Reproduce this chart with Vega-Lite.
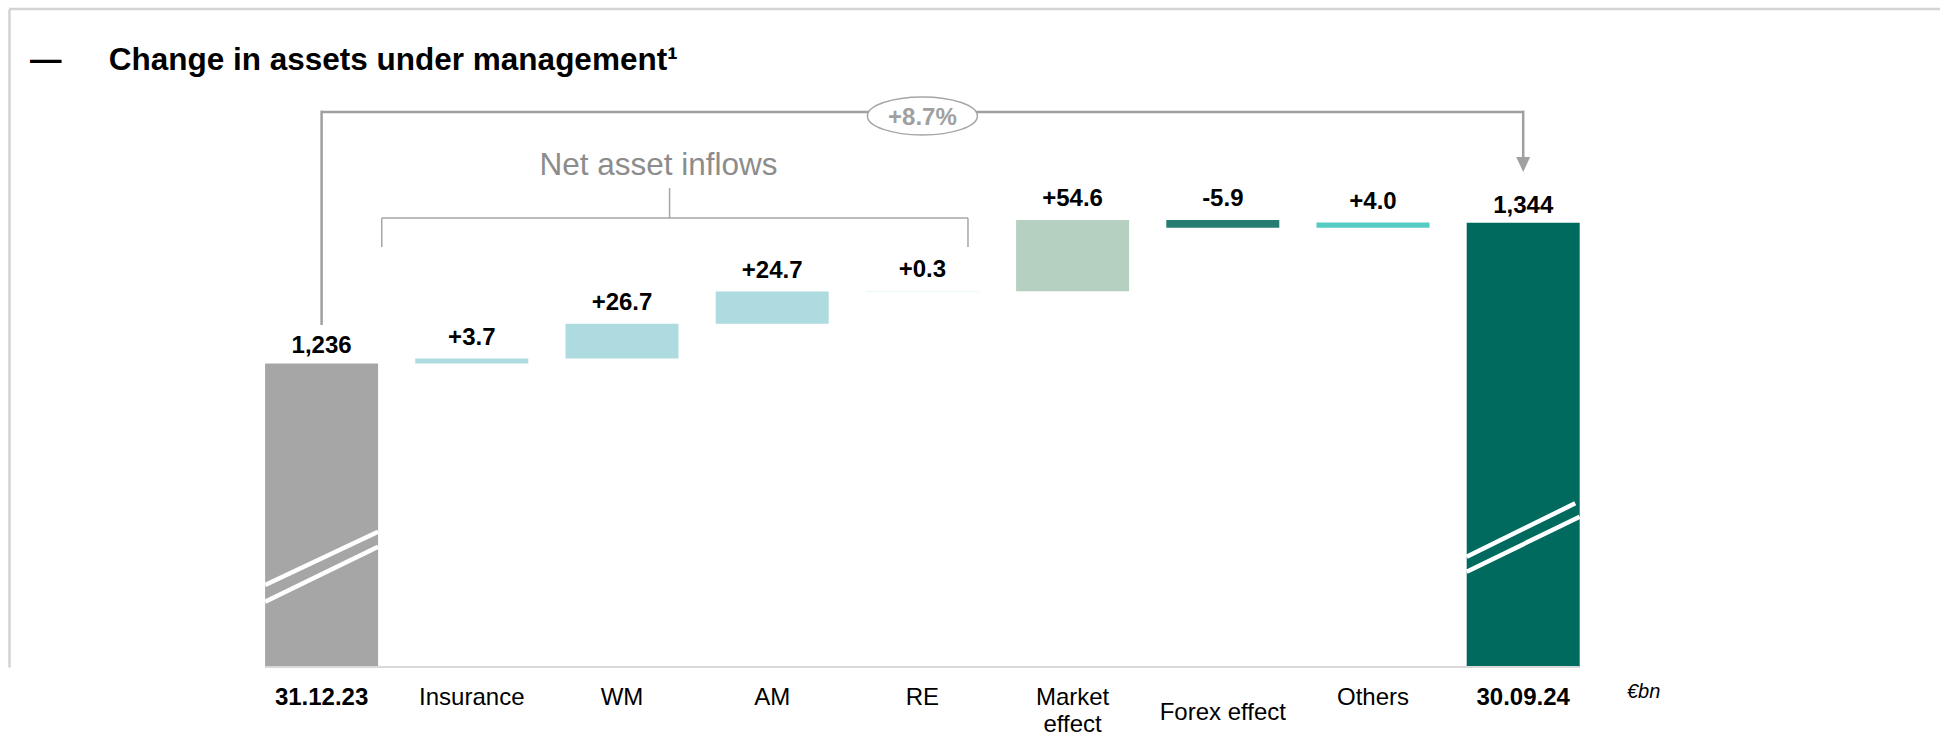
{
  "$schema": "https://vega.github.io/schema/vega-lite/v6.json",
  "autosize": {"type": "none"},
  "padding": {"left": 9, "top": 9, "right": 0, "bottom": 81},
  "width": 1931,
  "height": 658,
  "background": "#ffffff",
  "config": {
    "view": {"stroke": null},
    "font": "Liberation Sans",
    "locale": {"number": {"decimal": ".", "thousands": ",", "grouping": [3], "currency": ["", "€"], "minus": "-"}}
  },
  "title": {
    "text": "—\u2003\u2002Change in assets under management¹",
    "anchor": "start",
    "frame": "group",
    "orient": "top",
    "offset": -94,
    "dx": 21,
    "baseline": "alphabetic",
    "font": "Liberation Sans",
    "fontSize": 31.5,
    "fontWeight": "bold",
    "color": "#000000"
  },
  "resolve": {"axis": {"x": "independent", "y": "independent"}},
  "data": {
    "values": [
      {"step": "31.12.23", "kind": "total", "amount": 1236, "lo": 0, "hi": 1236},
      {"step": "Insurance", "kind": "delta", "amount": 3.7, "lo": 1236, "hi": 1239.7},
      {"step": "WM", "kind": "delta", "amount": 26.7, "lo": 1239.7, "hi": 1266.4},
      {"step": "AM", "kind": "delta", "amount": 24.7, "lo": 1266.4, "hi": 1291.1},
      {"step": "RE", "kind": "delta", "amount": 0.3, "lo": 1291.1, "hi": 1291.4},
      {"step": "Market effect", "kind": "delta", "amount": 54.6, "lo": 1291.4, "hi": 1346.0},
      {"step": "Forex effect", "kind": "delta", "amount": -5.9, "lo": 1340.1, "hi": 1346.0},
      {"step": "Others", "kind": "delta", "amount": 4.0, "lo": 1340.1, "hi": 1344.1},
      {"step": "30.09.24", "kind": "total", "amount": 1344, "lo": 0, "hi": 1344}
    ]
  },
  "layer": [
    {
      "data": {"values": [{}]},
      "mark": {"type": "rule", "color": "#d3d3d3", "strokeWidth": 2.5},
      "encoding": {"y": {"datum": 1508, "type": "quantitative", "axis": null}}
    },
    {
      "mark": {"type": "bar", "clip": true},
      "encoding": {
        "x": {
          "field": "step",
          "type": "nominal",
          "sort": null,
          "scale": {
            "domain": ["31.12.23", "Insurance", "WM", "AM", "RE", "Market effect", "Forex effect", "Others", "30.09.24"],
            "range": [256.1, 1570.7],
            "paddingInner": 0.2477,
            "paddingOuter": 0,
            "round": false
          },
          "axis": {
            "title": "€bn",
            "titleFont": "Liberation Sans",
            "titleFontSize": 20,
            "titleFontStyle": "italic",
            "titleFontWeight": "normal",
            "titleColor": "#000000",
            "titleX": 1617.5,
            "titleY": 30,
            "titleAlign": "left",
            "titleAnchor": "start",
            "titleBaseline": "alphabetic",
            "titleAngle": 0,
            "domain": false,
            "ticks": false,
            "grid": false,
            "labelAngle": 0,
            "labelFont": "Liberation Sans",
            "labelFontSize": 24,
            "labelColor": "#000000",
            "labelLimit": 0,
            "labelOverlap": false,
            "labelLineHeight": 27,
            "labelPadding": {"expr": "datum.value == 'Forex effect' ? 33 : 18"},
            "labelFontWeight": {"condition": {"test": "datum.value == '31.12.23' || datum.value == '30.09.24'", "value": "bold"}, "value": "normal"},
            "labelExpr": "datum.value == 'Market effect' ? ['Market', 'effect'] : datum.value"
          }
        },
        "y": {
          "field": "hi",
          "type": "quantitative",
          "scale": {"domain": [1003, 1508], "nice": false, "zero": false},
          "axis": {
            "title": null,
            "labels": false,
            "ticks": false,
            "grid": false,
            "domain": true,
            "domainColor": "#d3d3d3",
            "domainWidth": 2.5,
            "offset": 0
          }
        },
        "y2": {"field": "lo"},
        "color": {
          "field": "step",
          "type": "nominal",
          "scale": {
            "domain": ["31.12.23", "Insurance", "WM", "AM", "RE", "Market effect", "Forex effect", "Others", "30.09.24"],
            "range": ["#a6a6a6", "#aedbe0", "#aedbe0", "#aedbe0", "#aedbe0", "#b5cfc0", "#247c72", "#55cbc3", "#006a5f"]
          },
          "legend": null
        }
      }
    },
    {
      "data": {"values": [{}]},
      "mark": {"type": "rule", "color": "#ffffff", "strokeWidth": 4.5},
      "encoding": {
        "x": {"datum": "31.12.23", "type": "nominal", "bandPosition": 0, "axis": null},
        "x2": {"datum": "31.12.23", "bandPosition": 1},
        "y": {"datum": 1065.9, "type": "quantitative", "axis": null},
        "y2": {"datum": 1106.8}
      }
    },
    {
      "data": {"values": [{}]},
      "mark": {"type": "rule", "color": "#ffffff", "strokeWidth": 4.5},
      "encoding": {
        "x": {"datum": "31.12.23", "type": "nominal", "bandPosition": 0, "axis": null},
        "x2": {"datum": "31.12.23", "bandPosition": 1},
        "y": {"datum": 1053.1, "type": "quantitative", "axis": null},
        "y2": {"datum": 1095.3}
      }
    },
    {
      "data": {"values": [{}]},
      "mark": {"type": "rule", "color": "#ffffff", "strokeWidth": 4.5},
      "encoding": {
        "x": {"datum": "30.09.24", "type": "nominal", "bandPosition": 0, "axis": null},
        "x2": {"datum": "30.09.24", "bandPosition": 0.96},
        "y": {"datum": 1087.6, "type": "quantitative", "axis": null},
        "y2": {"datum": 1128.6}
      }
    },
    {
      "data": {"values": [{}]},
      "mark": {"type": "rule", "color": "#ffffff", "strokeWidth": 4.5},
      "encoding": {
        "x": {"datum": "30.09.24", "type": "nominal", "bandPosition": 0, "axis": null},
        "x2": {"datum": "30.09.24", "bandPosition": 1},
        "y": {"datum": 1076.1, "type": "quantitative", "axis": null},
        "y2": {"datum": 1118.3}
      }
    },
    {
      "data": {"values": [{}]},
      "mark": {"type": "rule", "color": "#d9d9d9", "strokeWidth": 2},
      "encoding": {
        "x": {"datum": "31.12.23", "type": "nominal", "bandPosition": 0, "axis": null},
        "x2": {"datum": "30.09.24", "bandPosition": 1},
        "y": {"datum": 1003, "type": "quantitative", "axis": null}
      }
    },
    {
      "transform": [{"filter": "datum.kind == 'total'"}],
      "mark": {"type": "text", "baseline": "alphabetic", "align": "center", "dy": -10, "fontSize": 24, "fontWeight": "bold", "font": "Liberation Sans", "color": "#000000"},
      "encoding": {
        "x": {"field": "step", "type": "nominal", "sort": null, "axis": null},
        "y": {"field": "hi", "type": "quantitative", "axis": null},
        "text": {"field": "amount", "type": "quantitative", "format": ",.0f"}
      }
    },
    {
      "transform": [{"filter": "datum.kind == 'delta'"}],
      "mark": {"type": "text", "baseline": "alphabetic", "align": "center", "dy": -14, "fontSize": 24, "fontWeight": "bold", "font": "Liberation Sans", "color": "#000000"},
      "encoding": {
        "x": {"field": "step", "type": "nominal", "sort": null, "axis": null},
        "y": {"field": "hi", "type": "quantitative", "axis": null},
        "text": {"field": "amount", "type": "quantitative", "format": "+.1f"}
      }
    },
    {
      "data": {"values": [{}]},
      "mark": {"type": "rule", "color": "#a0a0a0", "strokeWidth": 2.5},
      "encoding": {
        "x": {"datum": "31.12.23", "type": "nominal", "bandPosition": 0.5, "axis": null},
        "x2": {"datum": "30.09.24", "bandPosition": 0.5},
        "y": {"datum": 1428.9, "type": "quantitative", "axis": null}
      }
    },
    {
      "data": {"values": [{}]},
      "mark": {"type": "rule", "color": "#a0a0a0", "strokeWidth": 2.5},
      "encoding": {
        "x": {"datum": "31.12.23", "type": "nominal", "bandPosition": 0.5, "axis": null},
        "y": {"datum": 1430.0, "type": "quantitative", "axis": null},
        "y2": {"datum": 1265.5}
      }
    },
    {
      "data": {"values": [{}]},
      "mark": {"type": "rule", "color": "#a0a0a0", "strokeWidth": 2.5},
      "encoding": {
        "x": {"datum": "30.09.24", "type": "nominal", "bandPosition": 0.5, "axis": null},
        "y": {"datum": 1430.0, "type": "quantitative", "axis": null},
        "y2": {"datum": 1393.0}
      }
    },
    {
      "data": {"values": [{}]},
      "mark": {"type": "point", "shape": "M -0.93 -1 L 0.93 -1 L 0 1 Z", "size": 225, "filled": true, "color": "#a0a0a0", "opacity": 1, "strokeWidth": 0},
      "encoding": {
        "x": {"datum": "30.09.24", "type": "nominal", "bandPosition": 0.5, "axis": null},
        "y": {"datum": 1388.6, "type": "quantitative", "axis": null}
      }
    },
    {
      "data": {"values": [{}]},
      "mark": {
        "type": "point",
        "shape": "M -1 0 C -1 -0.1905 -0.5523 -0.345 0 -0.345 C 0.5523 -0.345 1 -0.1905 1 0 C 1 0.1905 0.5523 0.345 0 0.345 C -0.5523 0.345 -1 0.1905 -1 0 Z",
        "size": 12100,
        "filled": true,
        "fill": "#ffffff",
        "stroke": "#a6a6a6",
        "strokeWidth": 1.5,
        "opacity": 1
      },
      "encoding": {
        "x": {"datum": "RE", "type": "nominal", "bandPosition": 0.5, "axis": null},
        "y": {"datum": 1425.9, "type": "quantitative", "axis": null}
      }
    },
    {
      "data": {"values": [{}]},
      "mark": {"type": "text", "baseline": "alphabetic", "align": "center", "fontSize": 24, "fontWeight": "bold", "font": "Liberation Sans", "color": "#a0a0a0"},
      "encoding": {
        "x": {"datum": "RE", "type": "nominal", "bandPosition": 0.5, "axis": null},
        "y": {"datum": 1419.0, "type": "quantitative", "axis": null},
        "text": {"value": "+8.7%"}
      }
    },
    {
      "data": {"values": [{}]},
      "mark": {"type": "text", "baseline": "alphabetic", "align": "center", "fontSize": 31.5, "fontWeight": "normal", "font": "Liberation Sans", "color": "#8c8c8c"},
      "encoding": {
        "x": {"datum": "WM", "type": "nominal", "bandPosition": 0.823, "axis": null},
        "y": {"datum": 1380.6, "type": "quantitative", "axis": null},
        "text": {"value": "Net asset inflows"}
      }
    },
    {
      "data": {"values": [{}]},
      "mark": {"type": "rule", "color": "#a6a6a6", "strokeWidth": 1.5},
      "encoding": {
        "x": {"datum": "Insurance", "type": "nominal", "bandPosition": -0.297, "axis": null},
        "x2": {"datum": "RE", "bandPosition": 0.9035},
        "y": {"datum": 1347.6, "type": "quantitative", "axis": null}
      }
    },
    {
      "data": {"values": [{}]},
      "mark": {"type": "rule", "color": "#a6a6a6", "strokeWidth": 1.5},
      "encoding": {
        "x": {"datum": "Insurance", "type": "nominal", "bandPosition": -0.297, "axis": null},
        "y": {"datum": 1347.6, "type": "quantitative", "axis": null},
        "y2": {"datum": 1325.3}
      }
    },
    {
      "data": {"values": [{}]},
      "mark": {"type": "rule", "color": "#a6a6a6", "strokeWidth": 1.5},
      "encoding": {
        "x": {"datum": "RE", "type": "nominal", "bandPosition": 0.9035, "axis": null},
        "y": {"datum": 1347.6, "type": "quantitative", "axis": null},
        "y2": {"datum": 1325.3}
      }
    },
    {
      "data": {"values": [{}]},
      "mark": {"type": "rule", "color": "#a6a6a6", "strokeWidth": 1.5},
      "encoding": {
        "x": {"datum": "WM", "type": "nominal", "bandPosition": 0.921, "axis": null},
        "y": {"datum": 1347.6, "type": "quantitative", "axis": null},
        "y2": {"datum": 1370.6}
      }
    }
  ]
}
